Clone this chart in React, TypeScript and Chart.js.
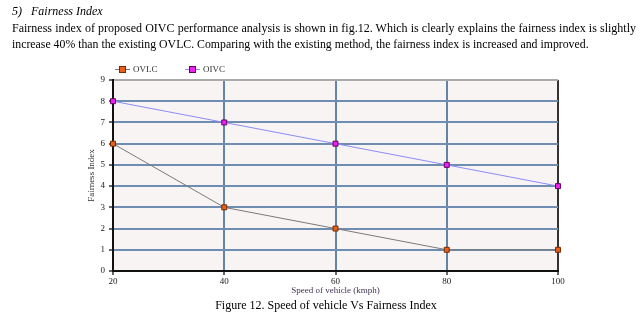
import React, { useEffect, useRef } from "react";
import { Chart, registerables } from "chart.js";

Chart.register(...registerables);

const speeds = [20, 40, 60, 80, 100];
const ovlc = [6, 3, 2, 1, 1];
const oivc = [8, 7, 6, 5, 4];
const seriesNames = ["OVLC", "OIVC"];
const xTitle = "Speed of vehicle (kmph)";
const yTitle = "Fairness Index";
const headingText = "5)\u00a0\u00a0\u00a0Fairness Index";
const paraLine1 =
  "Fairness index of proposed OIVC performance analysis is shown in fig.12. Which is clearly explains the fairness index is slightly";
const paraLine2 =
  "increase 40% than the existing OVLC. Comparing with the existing method, the fairness index is increased and improved.";
const captionText = "Figure 12. Speed of vehicle Vs Fairness Index";

const lineColors = ["#7a7a7a", "#8c8cf5"];
const pointFills = ["#e8601c", "#ee22ee"];
const pointBorders = ["#7a2a00", "#660066"];

const chartFont = { family: "'Liberation Serif', serif", size: 9 };

const bgPlugin = {
  id: "plotBg",
  beforeDraw(chart: any) {
    const { ctx, chartArea } = chart;
    if (!chartArea) return;
    ctx.save();
    ctx.fillStyle = "#f8f4f4";
    ctx.fillRect(chartArea.left, chartArea.top, chartArea.right - chartArea.left, chartArea.bottom - chartArea.top);
    ctx.restore();
  },
};

const legendPlugin = {
  id: "customLegend",
  afterDraw(chart: any) {
    const { ctx, chartArea } = chart;
    const y = chartArea.top - 11;
    const starts = [chartArea.left + 2, chartArea.left + 72];
    ctx.save();
    chart.data.datasets.forEach((ds: any, i: number) => {
      const x0 = starts[i];
      ctx.strokeStyle = ds.borderColor;
      ctx.lineWidth = 1;
      ctx.beginPath();
      ctx.moveTo(x0, y + 0.5);
      ctx.lineTo(x0 + 15, y + 0.5);
      ctx.stroke();
      ctx.fillStyle = ds.pointBackgroundColor;
      ctx.strokeStyle = ds.pointBorderColor;
      ctx.fillRect(x0 + 4.5, y - 2.5, 6, 6);
      ctx.strokeRect(x0 + 4.5, y - 2.5, 6, 6);
      ctx.fillStyle = "#333";
      ctx.font = "9px 'Liberation Serif', serif";
      ctx.textBaseline = "middle";
      ctx.fillText(ds.label, x0 + 18, y + 1);
    });
    ctx.restore();
  },
};

function ChartCanvas() {
  const ref = useRef<HTMLCanvasElement | null>(null);
  useEffect(() => {
    if (!ref.current) return;
    const series = [ovlc, oivc];
    const chart = new Chart(ref.current, {
      type: "line",
      data: {
        datasets: series.map((vals, i) => ({
          label: seriesNames[i],
          data: speeds.map((x, j) => ({ x, y: vals[j] })),
          borderColor: lineColors[i],
          borderWidth: 1,
          pointStyle: "rect",
          pointRadius: 3.5,
          pointBackgroundColor: pointFills[i],
          pointBorderColor: pointBorders[i],
          pointBorderWidth: 1,
          tension: 0,
          clip: false,
        })),
      },
      options: {
        animation: false,
        responsive: false,
        events: [],
        layout: { padding: { left: 83, top: 80, right: 85, bottom: 24 } },
        plugins: { legend: { display: false }, tooltip: { enabled: false } },
        scales: {
          x: {
            type: "linear",
            min: 20,
            max: 100,
            ticks: { stepSize: 20, font: chartFont, color: "#222", padding: 1 },
            grid: {
              color: (c: any) =>
                c.tick && c.tick.value === 20 ? "#111" : c.tick && c.tick.value === 100 ? "#333" : "#6384a8",
              lineWidth: 2,
              tickLength: 4,
              tickColor: "#666",
            },
            border: { color: "#111", width: 2 },
            title: { display: true, text: xTitle, font: chartFont, color: "#443355", padding: { top: 0, bottom: 5 } },
            afterFit: (s: any) => {
              s.height = 30;
            },
          },
          y: {
            type: "linear",
            min: 0,
            max: 9,
            ticks: { stepSize: 1, font: chartFont, color: "#222", padding: 4 },
            grid: {
              color: (c: any) =>
                c.tick && c.tick.value === 0 ? "#111" : c.tick && c.tick.value === 9 ? "#aaaaaa" : "#6f8db0",
              lineWidth: 2,
              tickLength: 4,
              tickColor: "#666",
            },
            border: { color: "#111", width: 2 },
            title: { display: true, text: yTitle, font: chartFont, color: "#333", padding: { top: 3, bottom: 0 } },
            afterFit: (s: any) => {
              s.width = 30;
            },
          },
        },
      },
      plugins: [bgPlugin, legendPlugin],
    } as any);
    return () => chart.destroy();
  }, []);
  return <canvas ref={ref} width={643} height={325} style={{ position: "absolute", left: 0, top: 0 }} />;
}

const textBase: React.CSSProperties = {
  position: "absolute",
  fontFamily: "'Liberation Serif', 'Times New Roman', serif",
  fontSize: 12,
  color: "#000",
  whiteSpace: "nowrap",
  lineHeight: "14px",
};

export default function App() {
  return (
    <div style={{ position: "absolute", left: 0, top: 0, width: 643, height: 325, background: "#fff", overflow: "hidden" }}>
      <ChartCanvas />
      <div style={{ ...textBase, left: 12, top: 4, fontStyle: "italic" }}>{headingText}</div>
      <div style={{ ...textBase, left: 12, top: 21, width: 624, textAlign: "justify", textAlignLast: "justify" as any, whiteSpace: "normal" }}>
        {paraLine1}
      </div>
      <div style={{ ...textBase, left: 12, top: 37, fontSize: 11.8 }}>{paraLine2}</div>
      <div style={{ ...textBase, left: 0, width: 652, top: 298, textAlign: "center" }}>{captionText}</div>
    </div>
  );
}
